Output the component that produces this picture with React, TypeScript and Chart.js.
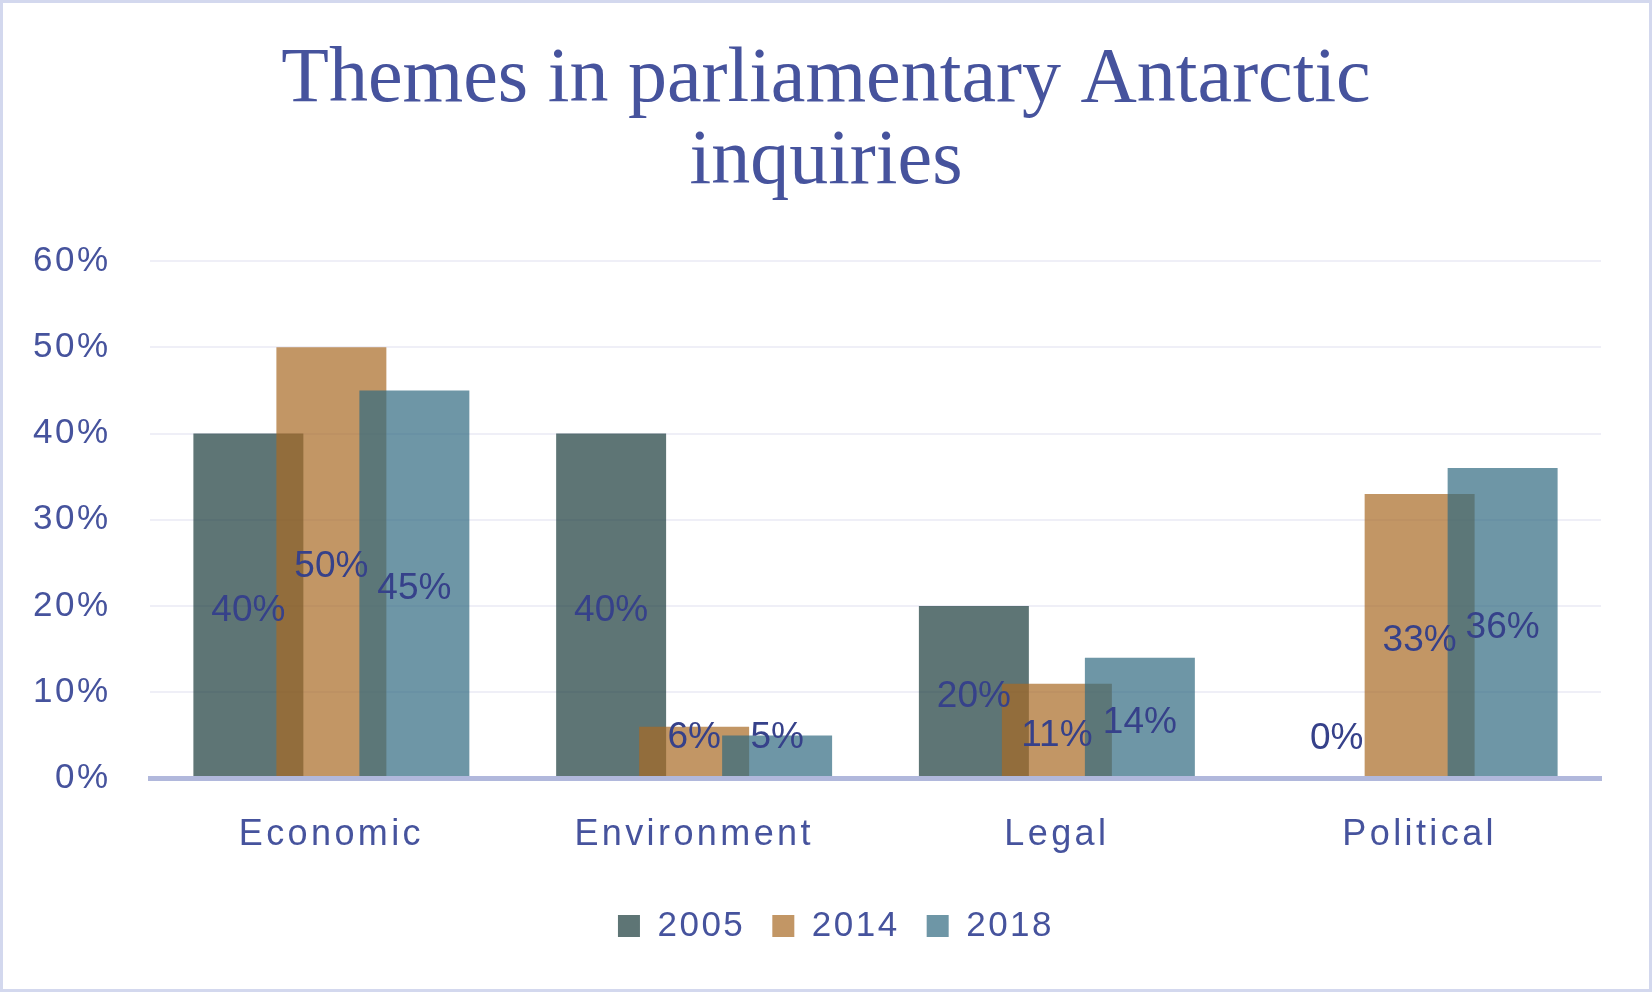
import React, { useEffect, useRef } from 'react';
import { Chart, registerables, CategoryScale, LinearScale } from 'chart.js';

Chart.register(...registerables);

// ---------- data ----------
const categories = ['Economic', 'Environment', 'Legal', 'Political'];
const seriesNames = ['2005', '2014', '2018'];
const values2005 = [40, 40, 20, 0];
const values2014 = [50, 6, 11, 33];
const values2018 = [45, 5, 14, 36];
const yTicks = [0, 10, 20, 30, 40, 50, 60];
const titleLines = ['Themes in parliamentary Antarctic', 'inquiries'];

// ---------- style ----------
const TEXT_COLOR = '#46539d';
const LABEL_COLOR = '#36418a';
const COLORS = ['rgba(26,58,58,0.7)', 'rgba(168,106,36,0.7)', 'rgba(48,105,128,0.7)'];
const X_LS = '3.4px';
const Y_LS = '2.5px';
const LEGEND_LS = '2.5px';
const LEGEND_SHIFT = 10;

class SpacedCategoryScale extends CategoryScale {
  static id = 'spacedCategory';
  _computeLabelArea() {
    return undefined;
  }
  drawLabels(chartArea: any) {
    const ctx: any = this.ctx;
    ctx.save();
    ctx.letterSpacing = X_LS;
    super.drawLabels(chartArea);
    ctx.restore();
  }
}

class SpacedLinearScale extends LinearScale {
  static id = 'spacedLinear';
  _computeLabelArea() {
    return undefined;
  }
  drawLabels(chartArea: any) {
    const ctx: any = this.ctx;
    ctx.save();
    ctx.letterSpacing = Y_LS;
    super.drawLabels(chartArea);
    ctx.restore();
  }
}

Chart.register(SpacedCategoryScale as any, SpacedLinearScale as any);

const legendSpacing = {
  id: 'legendSpacing',
  beforeUpdate(chart: any) {
    const lg = chart.legend;
    if (lg && !lg.__wrapped) {
      const fit = lg.fit.bind(lg);
      const draw = lg.draw.bind(lg);
      lg.fit = function () {
        const c = chart.ctx;
        c.save();
        c.letterSpacing = LEGEND_LS;
        fit();
        c.restore();
      };
      lg.draw = function () {
        const c = chart.ctx;
        c.save();
        c.letterSpacing = LEGEND_LS;
        c.translate(LEGEND_SHIFT, 0);
        draw();
        c.restore();
      };
      lg.__wrapped = true;
    }
  },
};

const orderAndLabels = {
  id: 'orderAndLabels',
  beforeDatasetsDraw(chart: any) {
    const ctx = chart.ctx;
    for (let i = 0; i < chart.data.datasets.length; i++) {
      if (!chart.isDatasetVisible(i)) continue;
      chart.getDatasetMeta(i).controller.draw();
    }
    ctx.save();
    ctx.font = "37px 'Liberation Sans'";
    ctx.fillStyle = LABEL_COLOR;
    ctx.textAlign = 'center';
    ctx.textBaseline = 'alphabetic';
    chart.data.datasets.forEach((ds: any, i: number) => {
      if (!chart.isDatasetVisible(i)) return;
      const meta = chart.getDatasetMeta(i);
      meta.data.forEach((el: any, j: number) => {
        const { x, y, base } = el.getProps(['x', 'y', 'base'], true);
        const mid = (y + base) / 2;
        const by = Math.min(mid + 15, base - 30);
        ctx.fillText(`${ds.data[j]}%`, x, by);
      });
    });
    ctx.restore();
    return false;
  },
};

export default function App() {
  const ref = useRef<HTMLCanvasElement>(null);
  useEffect(() => {
    document.body.style.margin = '0';
    Chart.defaults.font.family = "'Liberation Sans', Arial, sans-serif";
    const seriesValues = [values2005, values2014, values2018];
    const chart = new Chart(ref.current as HTMLCanvasElement, {
      type: 'bar',
      data: {
        labels: categories,
        datasets: seriesNames.map((name, i) => ({
          label: name,
          data: seriesValues[i],
          backgroundColor: COLORS[i],
          borderWidth: 0,
          categoryPercentage: 0.6864,
          barPercentage: 1.325,
        })),
      },
      options: {
        responsive: false,
        animation: false,
        devicePixelRatio: 1,
        layout: { padding: { top: 0, left: 48, right: 48, bottom: 35.5 } },
        plugins: {
          title: {
            display: true,
            text: titleLines,
            color: TEXT_COLOR,
            font: { family: "'Liberation Serif', 'Times New Roman', serif", size: 78, weight: 'normal', lineHeight: 1.05 },
            padding: { top: 37, bottom: 57.2 },
          },
          legend: {
            position: 'bottom',
            labels: {
              boxWidth: 22,
              boxHeight: 22,
              padding: 27,
              color: TEXT_COLOR,
              font: { size: 35 },
            },
          },
          tooltip: { enabled: false },
        },
        scales: {
          x: {
            type: 'spacedCategory' as any,
            grid: { display: false },
            border: { display: true, color: '#b1b8dc', width: 5, z: 1 },
            ticks: { color: TEXT_COLOR, font: { size: 36 }, padding: 27 },
            afterFit: (s: any) => { s.height = 103; },
          },
          y: {
            type: 'spacedLinear' as any,
            min: yTicks[0],
            max: yTicks[yTicks.length - 1],
            grid: { color: '#efeff7', lineWidth: 2, drawTicks: false },
            border: { display: false },
            afterBuildTicks: (s: any) => { s.ticks = yTicks.map((v) => ({ value: v })); },
            ticks: {
              color: TEXT_COLOR,
              font: { size: 35 },
              padding: 39.5,
              callback: (v: any) => `${v}%`,
            },
            afterFit: (s: any) => { s.width = 99; },
          },
        },
      } as any,
      plugins: [legendSpacing, orderAndLabels],
    });
    return () => chart.destroy();
  }, []);
  return (
    <div
      style={{
        position: 'fixed',
        left: 0,
        top: 0,
        width: 1652,
        height: 992,
        boxSizing: 'border-box',
        border: '3px solid #d3d8ee',
        background: '#ffffff',
      }}
    >
      <canvas ref={ref} width={1646} height={986} style={{ display: 'block' }} />
    </div>
  );
}
